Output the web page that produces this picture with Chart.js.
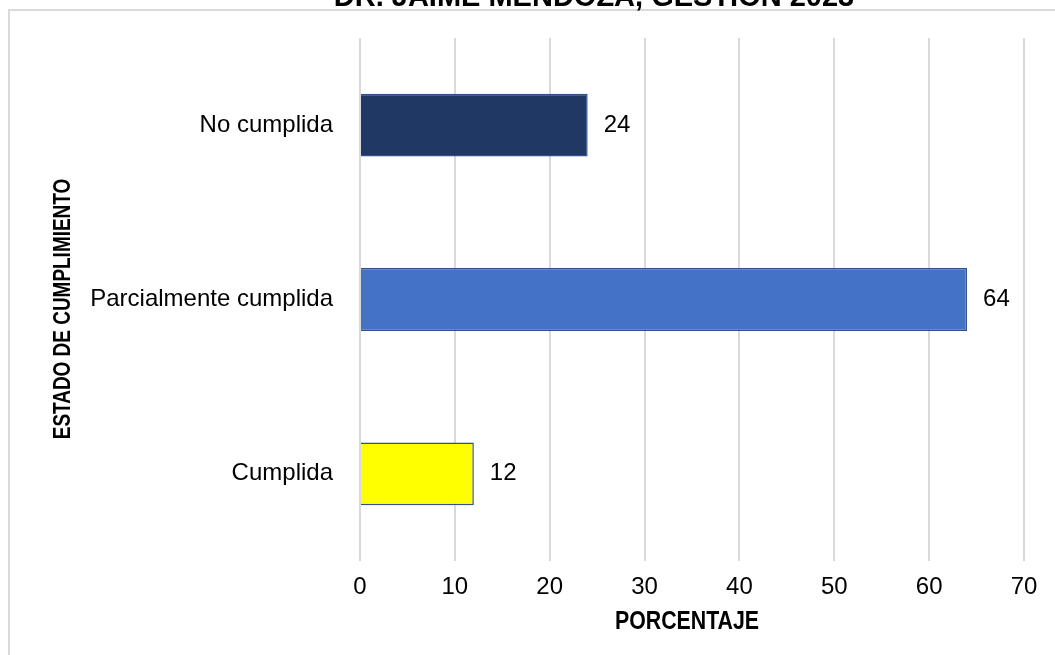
<!DOCTYPE html>
<html>
<head>
<meta charset="utf-8">
<script src="https://cdn.jsdelivr.net/npm/chart.js@4"></script>
<style>
  body { margin: 0; background: #fff; }
</style>
</head>
<body>
<canvas id="myChart" width="1055" height="655"></canvas>
<script>
// datos
const categorias = ["No cumplida", "Parcialmente cumplida", "Cumplida"];
const porcentajes = [24, 64, 12];
const ticksX = [0, 10, 20, 30, 40, 50, 60, 70];
const titulo = "DR. JAIME MENDOZA, GESTION 2023";
const tituloX = "PORCENTAJE";
const tituloY = "ESTADO DE CUMPLIMIENTO";

const colores = ["#1F3864", "#4472C4", "#FFFF00"];
const fuente = "'Liberation Sans', Arial, sans-serif";

const marco = {
  id: "marco",
  beforeDraw: (chart) => {
    const ctx = chart.ctx;
    ctx.save();
    ctx.strokeStyle = "#d9d9d9";
    ctx.lineWidth = 2;
    ctx.strokeRect(9, 10, 1200, 800);
    // titulo cortado arriba
    ctx.fillStyle = "#000";
    ctx.font = "bold 29px " + fuente;
    ctx.textAlign = "center";
    ctx.textBaseline = "alphabetic";
    ctx.fillText(titulo, 594, 6);
    ctx.restore();
  },
  afterDraw: (chart) => {
    // titulos de ejes en letra angosta (no hay Arial Narrow)
    const ctx = chart.ctx;
    const area = chart.chartArea;
    ctx.save();
    ctx.fillStyle = "#000";
    ctx.textAlign = "center";
    ctx.textBaseline = "middle";
    ctx.font = "bold 26px " + fuente;
    ctx.save();
    ctx.translate((area.left + area.right) / 2 - 5, 622);
    ctx.scale(0.82, 1);
    ctx.fillText(tituloX, 0, 0);
    ctx.restore();
    ctx.font = "bold 24px " + fuente;
    ctx.translate(63, 309);
    ctx.rotate(-Math.PI / 2);
    ctx.scale(0.79, 1);
    ctx.fillText(tituloY, 0, 0);
    ctx.restore();
  },
};

const etiquetas = {
  id: "etiquetas",
  afterDatasetsDraw: (chart) => {
    const ctx = chart.ctx;
    const meta = chart.getDatasetMeta(0);
    ctx.save();
    ctx.fillStyle = "#000";
    ctx.font = "24px " + fuente;
    ctx.textAlign = "left";
    ctx.textBaseline = "middle";
    meta.data.forEach((bar, i) => {
      ctx.fillText(porcentajes[i], bar.x + 16, bar.y);
    });
    ctx.restore();
  },
};

Chart.defaults.font.family = fuente;
Chart.defaults.color = "#000";

const ctx = document.getElementById("myChart").getContext("2d");
const myChart = new Chart(ctx, {
  type: "bar",
  data: {
    labels: categorias,
    datasets: [
      {
        data: porcentajes,
        backgroundColor: colores,
        borderColor: "#2F528F",
        borderWidth: 1.5,
        barPercentage: 0.36,
        categoryPercentage: 1,
      },
    ],
  },
  options: {
    indexAxis: "y",
    responsive: false,
    animation: false,
    layout: { padding: { top: 38, right: 31, left: 0, bottom: 0 } },
    plugins: {
      legend: { display: false },
      tooltip: { enabled: false },
    },
    scales: {
      x: {
        min: 0,
        max: 70,
        afterBuildTicks: (scale) => {
          scale.ticks = ticksX.map((v) => ({ value: v }));
        },
        afterFit: (scale) => {
          scale.height = 94;
        },
        grid: { color: "#d9d9d9", lineWidth: 2, drawTicks: false },
        border: { display: false },
        ticks: { font: { size: 24 }, padding: 12, color: "#000" },
      },
      y: {
        afterFit: (scale) => {
          scale.width = 360;
          scale.paddingTop = 0;
          scale.paddingBottom = 0;
        },
        grid: { display: false, drawTicks: false },
        border: { display: false },
        ticks: { font: { size: 24 }, padding: 27, color: "#000" },
      },
    },
  },
  plugins: [marco, etiquetas],
});
</script>
</body>
</html>
